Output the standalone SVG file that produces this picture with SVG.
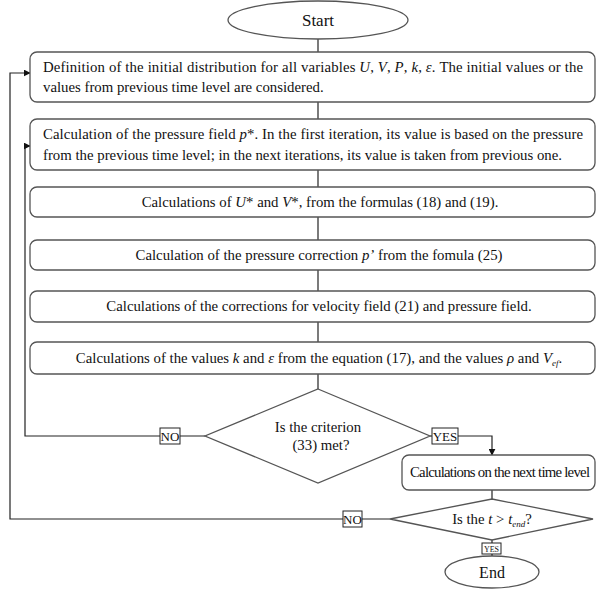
<svg xmlns="http://www.w3.org/2000/svg" width="597" height="590" viewBox="0 0 597 590">
<defs>
<style>
.n{fill:#fff;stroke:#555;stroke-width:1.3}
.t{font-family:"Liberation Serif","Times New Roman","DejaVu Serif",serif;font-size:14.8px;fill:#111}
.c{text-anchor:middle}
.i{font-style:italic}
.l{fill:none;stroke:#222;stroke-width:1.2}
.lb{fill:#fff;stroke:#222;stroke-width:1}
</style>
<marker id="a" viewBox="0 0 10 10" refX="9" refY="5" markerWidth="7" markerHeight="7" orient="auto" markerUnits="userSpaceOnUse"><path d="M0,0 L10,5 L0,10 z" fill="#111"/></marker>
</defs>
<rect width="597" height="590" fill="#fff"/>
<g id="connectors">
<path class="l" d="M318,39 V52"/>
<path class="l" d="M318,102 V119"/>
<path class="l" d="M318,170 V187"/>
<path class="l" d="M318,217 V240"/>
<path class="l" d="M318,270 V291"/>
<path class="l" d="M318,322 V342"/>
<path class="l" d="M318,374 V389"/>
<path class="l" d="M205,436 H180 M160,436 H25 V146 H30" marker-end="url(#a)"/>
<path class="l" d="M430,436 H432 M458,436 H492 V455" marker-end="url(#a)"/>
<path class="l" d="M492,490 V499"/>
<path class="l" d="M390,519 H362 M343,519 H10 V73 H30" marker-end="url(#a)"/>
<path class="l" d="M492,540 V543 M492,554 V556"/>
<rect class="lb" x="160" y="428" width="20" height="16"/>
<text class="t c" x="170" y="441" style="font-size:13px">NO</text>
<rect class="lb" x="432" y="428" width="26" height="16"/>
<text class="t c" x="445" y="441" style="font-size:13px">YES</text>
<rect class="lb" x="343" y="511" width="19" height="16"/>
<text class="t c" x="352.5" y="524" style="font-size:13px">NO</text>
<rect class="lb" x="482" y="543" width="19" height="11"/>
<text class="t c" x="491.5" y="551.5" style="font-size:8px">YES</text>
</g>
<g id="start">
<ellipse class="n" cx="318" cy="20" rx="90" ry="19"/>
<text class="t c" x="318" y="26" style="font-size:17px">Start</text>
</g>
<g id="box1">
<rect class="n" x="30" y="52" width="565" height="50" rx="7"/>
<text class="t" x="43" y="72" textLength="540" lengthAdjust="spacing">Definition of the initial distribution for all variables <tspan class="i">U</tspan>, <tspan class="i">V</tspan>, <tspan class="i">P</tspan>, <tspan class="i">k</tspan>, <tspan class="i">ε</tspan>. The initial values or the</text>
<text class="t" x="43" y="92">values from previous time level are considered.</text>
</g>
<g id="box2">
<rect class="n" x="30" y="119" width="565" height="51" rx="7"/>
<text class="t" x="43" y="139" textLength="540" lengthAdjust="spacing">Calculation of the pressure field <tspan class="i">p</tspan>*. In the first iteration, its value is based on the pressure</text>
<text class="t" x="43" y="160">from the previous time level; in the next iterations, its value is taken from previous one.</text>
</g>
<g id="box3">
<rect class="n" x="30" y="187" width="565" height="30" rx="7"/>
<text class="t c" x="320" y="207">Calculations of <tspan class="i">U</tspan>* and <tspan class="i">V</tspan>*, from the formulas (18) and (19).</text>
</g>
<g id="box4">
<rect class="n" x="30" y="240" width="565" height="30" rx="7"/>
<text class="t c" x="319" y="260">Calculation of the pressure correction <tspan class="i">p’</tspan> from the fomula (25)</text>
</g>
<g id="box5">
<rect class="n" x="30" y="291" width="565" height="31" rx="7"/>
<text class="t c" x="319" y="311">Calculations of the corrections for velocity field (21) and pressure field.</text>
</g>
<g id="box6">
<rect class="n" x="30" y="342" width="565" height="32" rx="7"/>
<text class="t c" x="319" y="363">Calculations of the values <tspan class="i">k</tspan> and <tspan class="i">ε</tspan> from the equation (17), and the values <tspan class="i">ρ</tspan> and <tspan class="i">V</tspan><tspan class="i" style="font-size:9px" dy="3">ef</tspan><tspan dy="-3">.</tspan></text>
</g>
<g id="decision1">
<polygon class="n" points="318,389 430,436 318,483 205,436"/>
<text class="t c" x="318" y="432">Is the criterion</text>
<text class="t c" x="321" y="450">(33) met?</text>
</g>
<g id="box7">
<rect class="n" x="402" y="455" width="193" height="35" rx="7"/>
<text class="t" x="410" y="477" textLength="180" lengthAdjust="spacing">Calculations on the next time level</text>
</g>
<g id="decision2">
<polygon class="n" points="492,499 593,519 492,540 390,519"/>
<text class="t c" x="492" y="524">Is the <tspan class="i">t</tspan> &gt; <tspan class="i">t</tspan><tspan class="i" style="font-size:9px" dy="3">end</tspan><tspan dy="-3">?</tspan></text>
</g>
<g id="end">
<ellipse class="n" cx="492" cy="572" rx="47" ry="16"/>
<text class="t c" x="492" y="578" style="font-size:16px">End</text>
</g>
</svg>
